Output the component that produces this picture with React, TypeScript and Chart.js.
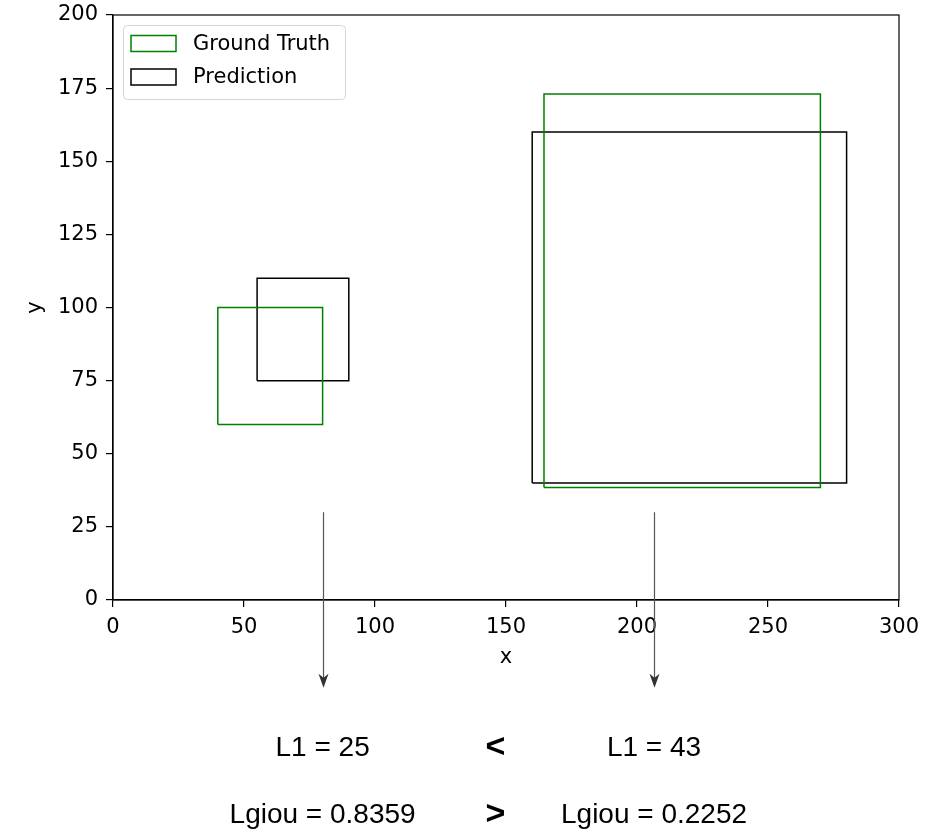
import React, { useEffect, useRef } from "react";
import { Chart, registerables } from "chart.js";

Chart.register(...registerables);

// ---- data ----
const xTickValues = [0, 50, 100, 150, 200, 250, 300];
const yTickValues = [0, 25, 50, 75, 100, 125, 150, 175, 200];
const seriesNames = ["Ground Truth", "Prediction"];
const seriesColors = ["#008000", "#000000"];
// boxes as [x1, y1, x2, y2]
const groundTruthBoxes = [
  [40, 60, 80, 100],
  [164.5, 38.5, 270, 173],
];
const predictionBoxes = [
  [55, 75, 90, 110],
  [160, 40, 280, 160],
];
const arrowXs = [80, 206.5];
const arrowStartY = 30;
const arrowEndY = -30;
const l1Labels = ["L1 = 25", "L1 = 43"];
const giouLabels = ["Lgiou = 0.8359", "Lgiou = 0.2252"];
const comparisonSymbols = ["<", ">"];

const AXIS_FONT = "'DejaVu Sans', sans-serif";
const TEXT_FONT = "'Liberation Sans', Arial, sans-serif";

function boxPoints(b: number[]) {
  const [x1, y1, x2, y2] = b;
  return [
    { x: x1, y: y1 },
    { x: x2, y: y1 },
    { x: x2, y: y2 },
    { x: x1, y: y2 },
    { x: x1, y: y1 },
  ];
}

const framePlugin = {
  id: "frame",
  afterDatasetsDraw(chart: any) {
    const { ctx, chartArea } = chart;
    ctx.save();
    ctx.strokeStyle = "#000";
    ctx.lineWidth = 1.2;
    ctx.strokeRect(chartArea.left, chartArea.top, chartArea.right - chartArea.left, chartArea.bottom - chartArea.top);
    ctx.restore();
  },
};

const legendPlugin = {
  id: "boxLegend",
  afterDraw(chart: any) {
    const { ctx, chartArea } = chart;
    const x = chartArea.left + 10;
    const y = chartArea.top + 10;
    const w = 222;
    const h = 74;
    ctx.save();
    ctx.beginPath();
    ctx.roundRect(x + 0.5, y + 0.5, w, h, 4);
    ctx.fillStyle = "rgba(255,255,255,0.85)";
    ctx.fill();
    ctx.strokeStyle = "#d6d6d6";
    ctx.lineWidth = 1;
    ctx.stroke();
    seriesNames.forEach((name, i) => {
      const rowY = y + 18.5 + i * 33.5;
      ctx.strokeStyle = seriesColors[i];
      ctx.lineWidth = 1.5;
      ctx.strokeRect(x + 8, rowY - 8, 45, 16);
      ctx.fillStyle = "#000";
      ctx.font = `21px ${AXIS_FONT}`;
      ctx.textAlign = "left";
      ctx.textBaseline = "middle";
      ctx.fillText(name, x + 70, rowY + 1);
    });
    ctx.restore();
  },
};

const annotationPlugin = {
  id: "arrowsAndText",
  afterDraw(chart: any) {
    const { ctx, chartArea } = chart;
    const xs = chart.scales.x;
    const ys = chart.scales.y;
    ctx.save();
    arrowXs.forEach((ax) => {
      const px = Math.round(xs.getPixelForValue(ax)) + 0.5;
      const p0 = ys.getPixelForValue(arrowStartY);
      const p1 = ys.getPixelForValue(arrowEndY);
      ctx.strokeStyle = "#555";
      ctx.lineWidth = 1.2;
      ctx.beginPath();
      ctx.moveTo(px, p0);
      ctx.lineTo(px, p1 - 8);
      ctx.stroke();
      ctx.fillStyle = "#333";
      ctx.beginPath();
      ctx.moveTo(px, p1);
      ctx.lineTo(px - 5, p1 - 14);
      ctx.lineTo(px, p1 - 10);
      ctx.lineTo(px + 5, p1 - 14);
      ctx.closePath();
      ctx.fill();
    });

    const row1 = chartArea.bottom + 148;
    const row2 = chartArea.bottom + 215;
    ctx.fillStyle = "#000";
    ctx.textAlign = "center";
    ctx.textBaseline = "middle";
    ctx.font = `28px ${TEXT_FONT}`;
    arrowXs.forEach((ax, i) => {
      const px = xs.getPixelForValue(ax);
      ctx.fillText(l1Labels[i], px, row1);
      ctx.fillText(giouLabels[i], px, row2);
    });
    const symX = xs.getPixelForValue(146);
    ctx.font = `bold 34px ${TEXT_FONT}`;
    ctx.fillText(comparisonSymbols[0], symX, row1);
    ctx.fillText(comparisonSymbols[1], symX, row2);
    ctx.restore();
  },
};

export default function App() {
  const canvasRef = useRef<HTMLCanvasElement | null>(null);

  useEffect(() => {
    document.body.style.margin = "0";
    const canvas = canvasRef.current;
    if (!canvas) return;

    const datasets: any[] = [];
    groundTruthBoxes.forEach((b, i) => {
      datasets.push({
        label: seriesNames[0] + " " + (i + 1),
        data: boxPoints(b),
        showLine: true,
        borderColor: seriesColors[0],
        borderWidth: 1.5,
        pointRadius: 0,
        fill: false,
        tension: 0,
        borderJoinStyle: "miter",
      });
    });
    predictionBoxes.forEach((b, i) => {
      datasets.push({
        label: seriesNames[1] + " " + (i + 1),
        data: boxPoints(b),
        showLine: true,
        borderColor: seriesColors[1],
        borderWidth: 1.5,
        pointRadius: 0,
        fill: false,
        tension: 0,
        borderJoinStyle: "miter",
      });
    });

    const tickFont = { family: AXIS_FONT, size: 21 };

    const chart = new Chart(canvas, {
      type: "scatter",
      data: { datasets },
      options: {
        animation: false,
        responsive: false,
        events: [],
        layout: { padding: { top: 15, right: 35, bottom: 163, left: 0 } },
        plugins: { legend: { display: false }, tooltip: { enabled: false } },
        scales: {
          x: {
            type: "linear",
            min: 0,
            max: 300,
            afterBuildTicks: (s: any) => {
              s.ticks = xTickValues.map((v) => ({ value: v }));
            },
            afterFit: (s: any) => {
              s.height = 70;
            },
            ticks: { font: tickFont, color: "#000", padding: 8, maxRotation: 0, autoSkip: false },
            grid: { display: true, drawOnChartArea: false, drawTicks: true, tickLength: 7, color: "#000", lineWidth: 1.2 },
            border: { display: true, color: "#000", width: 1.2 },
            title: { display: true, text: "x", font: tickFont, color: "#000", padding: { top: 0, bottom: 0 } },
          },
          y: {
            type: "linear",
            min: 0,
            max: 200,
            afterBuildTicks: (s: any) => {
              s.ticks = yTickValues.map((v) => ({ value: v }));
            },
            afterFit: (s: any) => {
              s.width = 113;
              s.paddingTop = 0;
              s.paddingBottom = 0;
            },
            ticks: { font: tickFont, color: "#000", padding: 8, autoSkip: false },
            grid: { display: true, drawOnChartArea: false, drawTicks: true, tickLength: 7, color: "#000", lineWidth: 1.2 },
            border: { display: true, color: "#000", width: 1.2 },
            title: { display: true, text: "y", font: tickFont, color: "#000", padding: { top: 23, bottom: 0 } },
          },
        },
      },
      plugins: [framePlugin, legendPlugin, annotationPlugin],
    });

    return () => {
      chart.destroy();
    };
  }, []);

  return (
    <div style={{ width: 934, height: 833, background: "#fff" }}>
      <canvas ref={canvasRef} width={934} height={833} />
    </div>
  );
}
